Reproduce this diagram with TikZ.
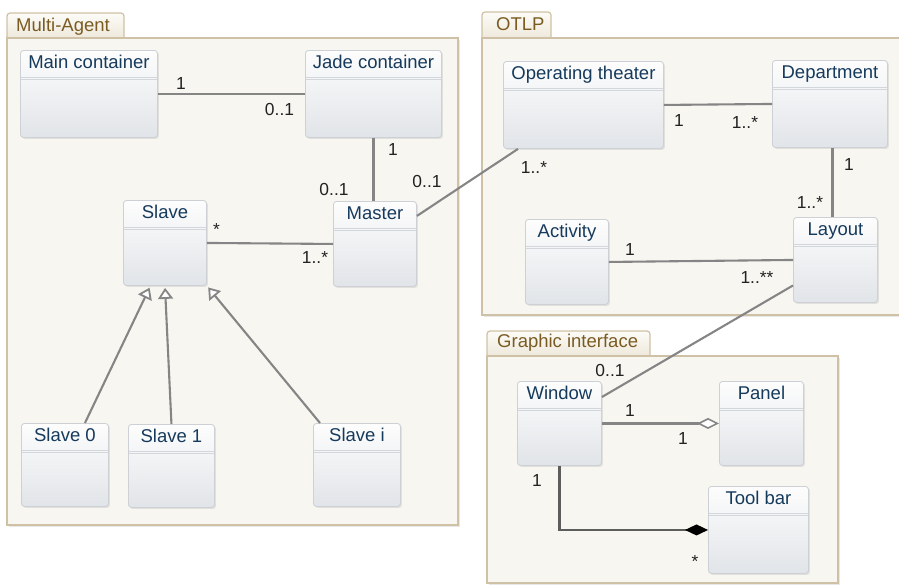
\documentclass[tikz,border=0pt]{standalone}
\usepackage{fontspec}
\setmainfont{Liberation Sans}
\usetikzlibrary{arrows.meta,shadows,calc}
\definecolor{pkgborder}{HTML}{CFC1A5}
\definecolor{pkgfill}{HTML}{F8F6F1}
\definecolor{tabtop}{HTML}{FCFBF7}
\definecolor{tabbot}{HTML}{EFE9DC}
\definecolor{tabtext}{HTML}{7A5C22}
\definecolor{clsborder}{HTML}{CDD1D5}
\definecolor{clstop}{HTML}{FDFDFD}
\definecolor{clsbot}{HTML}{E1E4E8}
\definecolor{clstext}{HTML}{163A5C}
\definecolor{seprule}{HTML}{D3D7DB}
\definecolor{conn}{HTML}{858585}
\definecolor{labtext}{HTML}{222222}
\tikzset{
  shad/.style={drop shadow={opacity=0.18,shadow xshift=1.5pt,shadow yshift=-1.5pt}},
  pkgbody/.style={draw=pkgborder,line width=1.2pt,fill=pkgfill,shad},
  pkgtab/.style={draw=pkgborder,line width=1.2pt,top color=tabtop,bottom color=tabbot,rounded corners=3pt},
  pkgname/.style={anchor=base west,inner sep=0pt,text=tabtext,font=\fontsize{18.5}{20}\selectfont},
  cls/.style={draw=clsborder,line width=0.9pt,rounded corners=3pt,top color=clstop,bottom color=clsbot,anchor=north west,inner sep=0pt,shad},
  clsname/.style={anchor=base,inner sep=0pt,text=clstext,font=\fontsize{18.5}{20}\selectfont},
  seprl/.style={draw=seprule,line width=0.8pt},
  lab/.style={anchor=base,inner sep=0pt,text=labtext,font=\fontsize{17.4}{19}\selectfont},
  assoc/.style={draw=conn,line width=2.1pt},
  gen/.style={assoc,-{Triangle[length=11pt,width=15pt,fill=white,line width=1.8pt]},shorten >=2pt},
  aggr/.style={assoc,-{Diamond[length=22pt,width=11pt,fill=white,line width=1.6pt]}},
  compo/.style={draw=conn!70!black,line width=2.1pt,-{Diamond[length=23pt,width=11pt,fill=black,color=black]}},
}
\newcommand\umlclass[6]{%
  \node[cls,minimum width=#4pt,minimum height=#5pt] (#1) at (#2,#3) {};
  \draw[seprl] ($(#1.north west)+(1,27)$) -- ($(#1.north east)+(-1,27)$);
  \draw[seprl] ($(#1.north west)+(1,29.5)$) -- ($(#1.north east)+(-1,29.5)$);
  \node[clsname] (#1-t) at ($(#1.north)+(0,18)$) {#6};
}
\begin{document}
\begin{tikzpicture}[x=1pt,y=-1pt]
\useasboundingbox (0,0) rectangle (899,584);
% packages
\path[pkgtab] (7,38) -- (7,13) -- (124,13) -- (124,38);
\path[pkgbody] (7,38) rectangle (458,525);
\node[pkgname] (pkgMA) at (16,31) {Multi-Agent};
\path[pkgtab] (482,38) -- (482,12) -- (551,12) -- (551,38);
\path[pkgbody] (482,38) rectangle (912,315);
\node[pkgname] (pkgOT) at (496,30) {OTLP};
\path[pkgtab] (487,356) -- (487,331) -- (650,331) -- (650,356);
\path[pkgbody] (487,356) rectangle (838,583);
\node[pkgname] (pkgGI) at (497,347) {Graphic interface};
% classes
\umlclass{main}{20}{50}{137}{87}{Main container}
\umlclass{jade}{305}{50}{136}{87}{Jade container}
\umlclass{slave}{123}{200}{83}{85}{Slave}
\umlclass{master}{333}{201}{83}{85}{Master}
\umlclass{slave0}{21}{423}{87}{83}{Slave 0}
\umlclass{slave1}{128}{424}{86}{83}{Slave 1}
\umlclass{slavei}{313}{423}{87}{83}{Slave i}
\umlclass{ot}{503}{61}{160}{87}{Operating theater}
\umlclass{dept}{772}{60}{115}{87}{Department}
\umlclass{act}{525}{219}{83}{85}{Activity}
\umlclass{layout}{793}{217}{84}{85}{Layout}
\umlclass{window}{517}{381}{84}{84}{Window}
\umlclass{panel}{719}{381}{84}{84}{Panel}
\umlclass{toolbar}{708}{486}{100}{87}{Tool bar}
% connectors
\draw[assoc] (main.east) -- (jade.west);
\draw[assoc] (jade.south) -- (jade.south |- master.north);
\draw[assoc] ([yshift=28pt]master.east) -- ([xshift=15pt]ot.south west);
\draw[assoc] (slave.east) -- (master.west);
\draw[gen] ([xshift=20pt]slave0.north) -- ([xshift=-14.5pt]slave.south);
\draw[gen] (slave1.north) -- (slave.south);
\draw[gen] ([xshift=7pt]slavei.north west) -- (slave.south east);
\draw[assoc] (ot.east) -- (dept.west);
\draw[assoc] ([xshift=2.5pt]dept.south) -- ([xshift=2.5pt]dept.south |- layout.north);
\draw[assoc] (act.east) -- (layout.west);
\draw[assoc] ([yshift=-25.5pt]layout.west) -- ([yshift=-16pt]window.north east);
\draw[aggr] (window.east) -- (panel.west);
\draw[compo] (window.south) |- (toolbar.west);
% multiplicities
\node[lab] (m1) at (181,89) {1};
\node[lab] (m2) at (279.5,115) {0..1};
\node[lab] (m3) at (393,155) {1};
\node[lab] (m4) at (334,195) {0..1};
\node[lab] (m5) at (427,187) {0..1};
\node[lab] (m6) at (216.5,235) {*};
\node[lab] (m7) at (315,263) {1..*};
\node[lab] (m8) at (534,173) {1..*};
\node[lab] (m9) at (679,126) {1};
\node[lab] (m10) at (745,128) {1..*};
\node[lab] (m11) at (849,170) {1};
\node[lab] (m12) at (810,208) {1..*};
\node[lab] (m13) at (630,255) {1};
\node[lab] (m14) at (757,283) {1..**};
\node[lab] (m15) at (610,376) {0..1};
\node[lab] (m16) at (630,416) {1};
\node[lab] (m17) at (683,444) {1};
\node[lab] (m18) at (537,486) {1};
\node[lab] (m19) at (695,567) {*};
\end{tikzpicture}
\end{document}
